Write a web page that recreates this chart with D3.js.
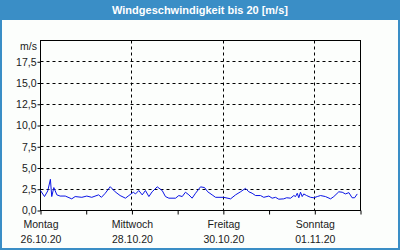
<!DOCTYPE html>
<html>
<head>
<meta charset="utf-8">
<script src="https://cdn.jsdelivr.net/npm/d3@7"></script>
<style>
	body { margin: 0; background: #fcfefc; }
	svg { display: block; }
	.tick text { font-family: "Liberation Sans", Arial, sans-serif; font-size: 10.5px; fill: #1a1a1a; }
</style>
</head>
<body>
<script>
(function(){
	//hours after 26.10.20 00:00 and wind speed in m/s
	var hours = [0, 2.1, 3.8, 5.2, 5.9, 7, 8.6, 10.3, 13, 16.4, 18.2, 21.7, 24.3, 26.9, 30.5, 32, 34, 36.6, 39.2, 41.8,
		44.6, 46.4, 48.7, 49.9, 51.6, 53.4, 55.1, 56.9, 58.6, 61.3, 63.9, 65.6, 67.4, 70.9, 72.6, 74.4, 76.1, 77.9, 79.6, 81.4,
		84, 86.1, 87.8, 90.1, 91.9, 96.2, 99.8, 102.4, 105, 107.6, 109.4, 111.1, 112.9, 115.5, 117.2, 119.9, 121.6, 123.4, 125.1, 127.7,
		129.2, 131.3, 133, 133.9, 134.8, 135.6, 136.5, 137.4, 138.2, 139.7, 141.8, 143.5, 145.3, 147, 149.6, 152.3, 154, 156.6, 158.4, 160.1,
		161.9, 163.6, 164.9, 166.3];
	var speeds = [2.35, 1.64, 2.3, 3.67, 1.64, 2.7, 1.84, 1.7, 1.7, 1.37, 1.64, 1.55, 1.7, 1.55, 1.84, 1.55, 2.03, 2.8, 2.2, 1.76,
		1.45, 1.76, 2.15, 1.95, 2.35, 1.84, 2.35, 1.64, 2.2, 2.78, 2.35, 1.64, 1.45, 1.45, 1.76, 1.64, 2.15, 1.84, 1.45, 2.03,
		2.78, 2.7, 2.2, 1.84, 1.55, 1.55, 1.37, 1.84, 2.2, 2.6, 2.2, 2.03, 1.76, 1.76, 1.55, 1.7, 1.45, 1.55, 1.33, 1.37,
		1.5, 1.45, 1.76, 1.64, 2.03, 1.5, 2.15, 1.64, 1.95, 1.76, 1.55, 1.5, 1.64, 1.76, 1.64, 1.37, 1.64, 2.2, 2.15, 1.95,
		2.1, 1.5, 1.5, 1.95];
	var yTicks = [0, 2.5, 5, 7.5, 10, 12.5, 15, 17.5];
	var gridTicks = [2.5, 5, 7.5, 10, 12.5, 15, 17.5];
	var dayNames = ["Montag", "Mittwoch", "Freitag", "Sonntag"];
	var dateLabels = ["26.10.20", "28.10.20", "30.10.20", "01.11.20"];
	var title = "Windgeschwindigkeit bis 20 [m/s]";
	var unit = "m/s";

window.onload = setChart();

function setChart() {
	var width = 400,
		height = 250;

	var svg = d3.select("body")
		.append("svg")
		.attr("width", width)
		.attr("height", height);

	//title bar and frame
	svg.append("rect")
		.attr("x", 0).attr("y", 0)
		.attr("width", width).attr("height", 20)
		.attr("fill", "#3a8ec6");
	svg.append("path")
		.attr("d", "M1,20V249H399V20")
		.attr("fill", "none")
		.attr("stroke", "#3a8ec6")
		.attr("stroke-width", 2);
	svg.append("text")
		.attr("x", width / 2).attr("y", 14)
		.attr("text-anchor", "middle")
		.attr("font-family", "'Liberation Sans', Arial, sans-serif")
		.attr("font-weight", "bold")
		.attr("font-size", "11px")
		.attr("fill", "#fff")
		.text(title);

	var start = new Date(Date.UTC(2020, 9, 26)),
		end = new Date(Date.UTC(2020, 10, 2));
	var data = hours.map(function(h, i){
		return { date: new Date(+start + h * 3600e3), value: speeds[i] };
	});

	var x = d3.scaleUtc()
		.domain([start, end])
		.range([40.5, 360.5]);
	var y = d3.scaleLinear()
		.domain([0, 20])
		.range([210.5, 40.5]);

	var comma = d3.formatLocale({ decimal: ",", thousands: ".", grouping: [3], currency: ["", "€"] }).format(".1f");

	//dashed grid
	svg.selectAll(".hgrid")
		.data(gridTicks)
		.enter()
		.append("line")
		.attr("class", "hgrid")
		.attr("x1", x.range()[0]).attr("x2", x.range()[1])
		.attr("y1", function(d){ return Math.round(y(d) - 0.5) + 0.5; })
		.attr("y2", function(d){ return Math.round(y(d) - 0.5) + 0.5; })
		.attr("stroke", "#000")
		.attr("stroke-dasharray", "3,3");

	var labelDays = d3.utcDay.range(start, end, 2); //26.10, 28.10, 30.10, 01.11
	svg.selectAll(".vgrid")
		.data(labelDays.slice(1))
		.enter()
		.append("line")
		.attr("class", "vgrid")
		.attr("x1", function(d){ return Math.round(x(d) - 0.5) + 0.5; })
		.attr("x2", function(d){ return Math.round(x(d) - 0.5) + 0.5; })
		.attr("y1", y(20)).attr("y2", y(0))
		.attr("stroke", "#000")
		.attr("stroke-dasharray", "3,3");

	//plot frame
	svg.append("rect")
		.attr("x", x.range()[0]).attr("y", y(20))
		.attr("width", x.range()[1] - x.range()[0])
		.attr("height", y(0) - y(20))
		.attr("fill", "none")
		.attr("stroke", "#000");

	//y axis
	var yAxis = svg.append("g")
		.attr("transform", "translate(" + x.range()[0] + ",0)")
		.call(d3.axisLeft(y).tickValues(yTicks).tickSize(3).tickPadding(1).tickFormat(comma));
	yAxis.select(".domain").remove();
	svg.append("text")
		.attr("x", 37).attr("y", y(20) + 9)
		.attr("text-anchor", "end")
		.attr("font-family", "'Liberation Sans', Arial, sans-serif")
		.attr("font-size", "10.5px")
		.attr("fill", "#1a1a1a")
		.text(unit);

	//x axis: a tick every day, labels every second day
	var xAxis = svg.append("g")
		.attr("transform", "translate(0," + y(0) + ")")
		.call(d3.axisBottom(x).tickValues(d3.utcDay.range(start, d3.utcDay.offset(end, 1))).tickSize(4).tickFormat(""));
	xAxis.select(".domain").remove();

	var xLabels = svg.append("g")
		.attr("transform", "translate(0," + y(0) + ")")
		.call(d3.axisBottom(x).tickValues(labelDays).tickSize(0).tickPadding(10)
			.tickFormat(function(d, i){ return dayNames[i]; }));
	xLabels.select(".domain").remove();
	xLabels.selectAll(".tick text")
		.each(function(d, i){
			d3.select(this).append("tspan")
				.attr("x", 0).attr("dy", "1.45em")
				.text(dateLabels[i]);
		});

	//wind line
	var line = d3.line()
		.x(function(d){ return x(d.date); })
		.y(function(d){ return y(d.value); });
	svg.append("path")
		.datum(data)
		.attr("fill", "none")
		.attr("stroke", "#0a14e6")
		.attr("stroke-width", 1)
		.attr("d", line);
}
})();
</script>
</body>
</html>
